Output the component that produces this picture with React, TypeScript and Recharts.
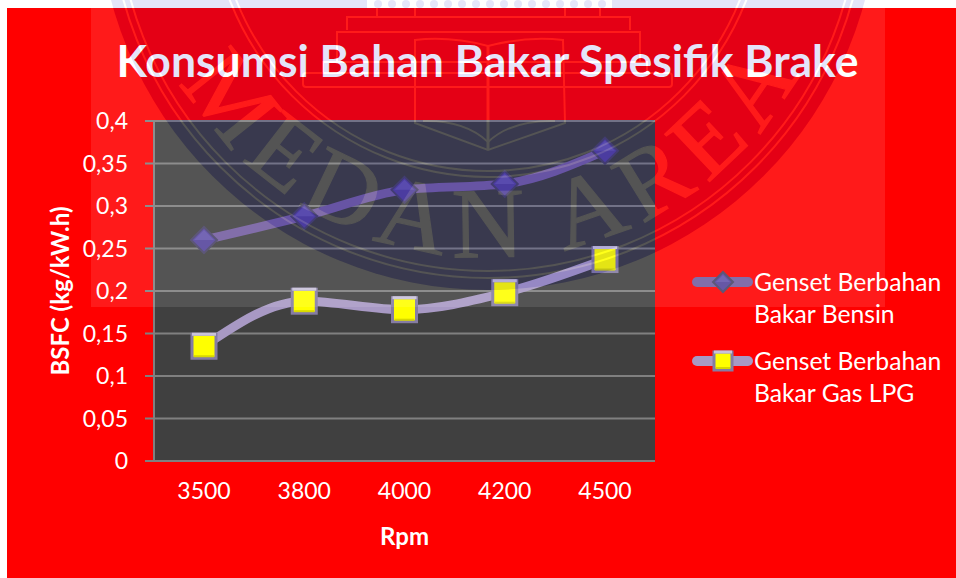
import { LineChart, Line, XAxis, YAxis, CartesianGrid, Legend } from 'recharts';

const rpmLabels = ['3500', '3800', '4000', '4200', '4500'];
const bensinValues = [0.26, 0.288, 0.319, 0.326, 0.365];
const lpgValues = [0.135, 0.188, 0.178, 0.198, 0.237];
const yTicks = [0, 0.05, 0.1, 0.15, 0.2, 0.25, 0.3, 0.35, 0.4];

const bensinName = 'Genset Berbahan Bakar Bensin';
const lpgName = 'Genset Berbahan Bakar Gas LPG';
const bensinLegend = ['Genset Berbahan', 'Bakar Bensin'];
const lpgLegend = ['Genset Berbahan', 'Bakar Gas LPG'];

const chartData = rpmLabels.map((rpm, i) => ({
  rpm,
  bensin: bensinValues[i],
  lpg: lpgValues[i],
}));

const FONT = 'Lato, sans-serif';
const PURPLE = '#745EA0';
const LILAC = '#A899C4';
const GRID = '#808080';

const SEAL_X = 488;
const SEAL_Y = -100;
const SEAL_R = 390;

function DiamondDot({ cx, cy, size = 13 }: any) {
  return (
    <g>
      <polygon
        points={`${cx},${cy - size} ${cx + size},${cy} ${cx},${cy + size} ${cx - size},${cy}`}
        fill="#54449C"
        stroke="#4A4468"
        strokeWidth={2}
      />
      <polygon
        points={`${cx},${cy - size + 3} ${cx + size - 3},${cy} ${cx - size + 3},${cy}`}
        fill="#6454AC"
      />
    </g>
  );
}

function SquareDot({ cx, cy, size = 12 }: any) {
  return (
    <g>
      <rect x={cx - size} y={cy - size} width={size * 2} height={size * 2} fill="#FFFF00" stroke="#857CA3" strokeWidth={3} />
      <line x1={cx - size} y1={cy - size} x2={cx + size} y2={cy - size} stroke="#C9C2DA" strokeWidth={3} />
      <rect x={cx - size + 2} y={cy + size - 3} width={size * 2 - 4} height={2} fill="#D8D800" />
    </g>
  );
}

function LegendBox() {
  const row = (lines: string[], color: string, top: number, marker: any) => (
    <div style={{ position: 'absolute', left: 0, top, width: 260, height: 70 }}>
      <svg width={62} height={30} style={{ position: 'absolute', left: 0, top: 2 }}>
        <line x1={5} y1={15} x2={56} y2={15} stroke={color} strokeWidth={10} strokeLinecap="round" />
        {marker}
      </svg>
      <div style={{ position: 'absolute', left: 62, top: 0, color: '#fff', fontFamily: FONT, fontSize: 24.7, whiteSpace: 'nowrap' }}>
        <div style={{ height: 32, lineHeight: '33px' }}>{lines[0]}</div>
        <div style={{ height: 32, lineHeight: '33px' }}>{lines[1]}</div>
      </div>
    </div>
  );
  return (
    <div style={{ position: 'relative', width: 260, height: 150 }}>
      {row(bensinLegend, PURPLE, 0, <DiamondDot cx={31} cy={15} size={10} />)}
      {row(lpgLegend, LILAC, 79, <SquareDot cx={31} cy={15} size={9} />)}
    </div>
  );
}

function SealCuts() {
  return (
    <g fill="none" stroke="#000">
      <circle cx={SEAL_X} cy={SEAL_Y} r={378} strokeWidth={2} />
      <circle cx={SEAL_X} cy={SEAL_Y} r={371} strokeWidth={2} />
      <circle cx={SEAL_X} cy={SEAL_Y} r={277} strokeWidth={2} />
      <circle cx={SEAL_X} cy={SEAL_Y} r={271} strokeWidth={2} />
      {/* building steps */}
      <path d="M347 30 V17 H630 V30" strokeWidth={2} />
      <path d="M337 62 V32 H640 V62" strokeWidth={2} />
      <path d="M323 72 V62 H647 V72" strokeWidth={2} />
      <rect x={303} y={73} width={369} height={14} rx={3} strokeWidth={2} />
      <path d="M377 8 V17 M600 8 V17 M415 8 V17 M565 8 V17" strokeWidth={2} />
      {/* book */}
      <path d="M415 40 Q450 36 488 46 Q526 36 563 40 L565 123 L488 150 L415 123 Z" strokeWidth={2} />
      <path d="M488 46 V150" strokeWidth={3} />
      <path d="M423 121 Q465 120 488 142 Q511 120 555 121" strokeWidth={2} />
      <rect x={367} y={0} width={245} height={8} fill="#000" stroke="none" />
      <text fontFamily="'Liberation Serif', serif" fontSize={100} fill="#000" stroke="#000" strokeWidth={1.2} textAnchor="middle" letterSpacing={10}>
        <textPath href="#sealArc" startOffset="50.8%">MEDAN AREA</textPath>
      </text>
    </g>
  );
}

// watermark sits above the whole chart, like the stamp on the scanned page
function Watermark() {
  const r = 357;
  const beads = Array.from({ length: 17 }, (_, i) => 378 + i * 14);
  return (
    <svg width={956} height={578} style={{ position: 'absolute', left: 0, top: 0, pointerEvents: 'none' }}>
      <defs>
        <path id="sealArc" d={`M${SEAL_X - r} ${SEAL_Y} A${r} ${r} 0 0 0 ${SEAL_X + r} ${SEAL_Y}`} />
        <mask id="insideSeal" maskUnits="userSpaceOnUse" x={0} y={0} width={956} height={578}>
          <circle cx={SEAL_X} cy={SEAL_Y} r={SEAL_R} fill="#fff" />
          <SealCuts />
        </mask>
        <mask id="outsideSeal" maskUnits="userSpaceOnUse" x={0} y={0} width={956} height={578}>
          <rect x={0} y={0} width={956} height={578} fill="#fff" />
          <circle cx={SEAL_X} cy={SEAL_Y} r={SEAL_R} fill="#000" />
          <g style={{ filter: 'invert(1)' }}>
            <SealCuts />
          </g>
        </mask>
      </defs>
      <rect x={91} y={0} width={794} height={307} fill="#fff" opacity={0.1} mask="url(#outsideSeal)" />
      <rect x={91} y={0} width={794} height={307} fill="rgb(0,0,200)" opacity={0.1} mask="url(#insideSeal)" />
      {beads.map((x) => (
        <circle key={x} cx={x} cy={4} r={4} fill="rgb(0,0,200)" opacity={0.1} />
      ))}
    </svg>
  );
}

export default function App() {
  return (
    <div style={{ position: 'absolute', left: 0, top: 0, width: 956, height: 578, background: '#fff', overflow: 'hidden' }}>
      <div style={{ position: 'absolute', left: 7, top: 8, right: 0, bottom: 0, background: '#FF0000' }} />
      <div style={{ position: 'absolute', left: 0, top: 0 }}>
        <LineChart
          width={956}
          height={578}
          data={chartData}
          margin={{ top: 121, right: 301, bottom: 57, left: 74 }}
        >
          <CartesianGrid vertical={false} fill="#404040" stroke={GRID} strokeWidth={2} />
          <XAxis
            dataKey="rpm"
            height={60}
            padding={{ left: 50, right: 50 }}
            tickLine={false}
            axisLine={{ stroke: GRID, strokeWidth: 2 }}
            tick={{ fill: '#fff', fontSize: 23, fontFamily: FONT }}
            tickMargin={16}
            label={{ value: 'Rpm', position: 'bottom', offset: 7, fill: '#fff', fontSize: 24, fontWeight: 700, fontFamily: FONT }}
          />
          <YAxis
            width={80}
            domain={[0, 0.4]}
            ticks={yTicks}
            interval={0}
            tickSize={9}
            tickLine={{ stroke: GRID, strokeWidth: 2 }}
            axisLine={{ stroke: GRID, strokeWidth: 2 }}
            tick={{ fill: '#fff', fontSize: 23, fontFamily: FONT }}
            tickMargin={17}
            tickFormatter={(v: number) => String(v).replace('.', ',')}
            label={{ value: 'BSFC (kg/kW.h)', angle: -90, position: 'insideLeft', offset: -14, fill: '#fff', fontSize: 24, fontWeight: 700, fontFamily: FONT, style: { textAnchor: 'middle' } }}
          />
          <Line
            dataKey="bensin"
            name={bensinName}
            type="monotone"
            stroke={PURPLE}
            strokeWidth={9}
            dot={(p: any) => <DiamondDot key={p.index} cx={p.cx} cy={p.cy} />}
            isAnimationActive={false}
          />
          <Line
            dataKey="lpg"
            name={lpgName}
            type="monotone"
            stroke={LILAC}
            strokeWidth={9}
            dot={(p: any) => <SquareDot key={p.index} cx={p.cx} cy={p.cy} />}
            isAnimationActive={false}
          />
          <Legend
            content={<LegendBox />}
            wrapperStyle={{ position: 'absolute', left: 692, top: 265, width: 260, height: 0 }}
          />
        </LineChart>
      </div>
      <div
        style={{
          position: 'absolute',
          left: 0,
          width: 975,
          top: 33,
          textAlign: 'center',
          color: '#fff',
          fontFamily: FONT,
          fontWeight: 700,
          fontSize: 44.5,
          lineHeight: '54px',
          whiteSpace: 'nowrap',
        }}
      >
        Konsumsi Bahan Bakar Spesifik Brake
      </div>
      <Watermark />
    </div>
  );
}
